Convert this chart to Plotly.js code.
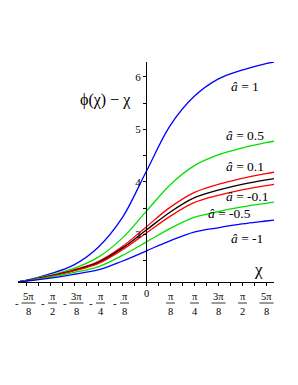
<!DOCTYPE html>
<html><head><meta charset="utf-8">
<script src="https://cdn.plot.ly/plotly-3.0.1.min.js"></script>
<style>html,body{margin:0;padding:0;background:#fff}</style>
</head><body><div id="chart" style="width:298px;height:385px"></div>
<script>
const PI = Math.PI;
// chi sample positions (multiples of pi/8, plus the ends ±2π/3)
const chi = [-2*PI/3, -5*PI/8, -PI/2, -3*PI/8, -PI/4, -PI/8, 0, PI/8, PI/4, 3*PI/8, PI/2, 5*PI/8, 2*PI/3];
// phi(chi) - chi
const yA1   = [2.094, 2.123, 2.249, 2.421, 2.752, 3.309, 4.189, 5.068, 5.625, 5.956, 6.128, 6.254, 6.283];
const yA05  = [2.094, 2.121, 2.223, 2.354, 2.563, 2.925, 3.434, 3.943, 4.305, 4.514, 4.645, 4.747, 4.774];
const yA01  = [2.094, 2.119, 2.209, 2.324, 2.481, 2.763, 3.139, 3.515, 3.797, 3.954, 4.069, 4.159, 4.184];
const yA0   = [2.094, 2.118, 2.204, 2.315, 2.462, 2.734, 3.079, 3.424, 3.696, 3.843, 3.954, 4.040, 4.064];
const yAm01 = [2.094, 2.118, 2.200, 2.306, 2.444, 2.704, 3.024, 3.344, 3.604, 3.742, 3.848, 3.930, 3.954];
const yAm05 = [2.094, 2.115, 2.185, 2.276, 2.383, 2.596, 2.854, 3.112, 3.325, 3.432, 3.523, 3.593, 3.614];
const yAm1  = [2.094, 2.112, 2.168, 2.242, 2.323, 2.489, 2.684, 2.879, 3.045, 3.127, 3.200, 3.256, 3.274];

const seriesNames = ["â = 1", "â = 0.5", "â = 0.1", "â = 0", "â = -0.1", "â = -0.5", "â = -1"];
const seriesY = [yA1, yA05, yA01, yA0, yAm01, yAm05, yAm1];

// x tick labels (fractions of π)
const xTickVals = [-5,-4,-3,-2,-1,1,2,3,4,5].map(k => k*PI/8);
const xTickNum  = ["5π","π","3π","π","π","π","π","3π","π","5π"];
const xTickDen  = ["8","2","8","4","8","8","4","8","2","8"];
// y ticks
const yTickVals = [2.5, 3, 3.5, 4, 4.5, 5, 5.5, 6];
const yTickText = ["", "3", "", "4", "", "5", "", "6"];

// styles
const colors = ["#0000ff", "#00e000", "#ff0000", "#000000", "#ff0000", "#00e000", "#0000ff"];
const labelPos = [[1.62, 5.82], [1.62, 4.88], [1.62, 4.29], null, [1.66, 3.72], [1.36, 3.40], [1.66, 2.92]];

const SERIF = "'Liberation Serif', 'Times New Roman', serif";

const traces = seriesY.map((ys, i) => ({
  x: chi, y: ys, type: "scatter", mode: "lines",
  line: {color: colors[i], width: 1.3, shape: "spline", smoothing: 1},
  name: seriesNames[i], hoverinfo: "skip"
}));

const annotations = [];
const shapes = [];
function ann(o) {
  annotations.push(Object.assign({showarrow: false, xanchor: "center", yanchor: "middle"}, o));
}
seriesNames.forEach((n, i) => {
  if (!labelPos[i]) return;
  ann({x: labelPos[i][0], y: labelPos[i][1], xref: "x", yref: "y",
    text: "<i>â</i> = " + n.split("= ")[1],
    font: {family: SERIF, size: 13.5, color: "#000"}});
});
xTickVals.forEach((v, i) => {
  const neg = v < 0;
  const w = xTickNum[i].length > 1 ? 14 : 9;
  const off = neg ? 2.5 : 0.5;
  ann({x: v, y: 0, xref: "x", yref: "paper", xshift: off, yshift: -14,
    text: xTickNum[i], font: {family: SERIF, size: 10.5, color: "#000"}});
  ann({x: v, y: 0, xref: "x", yref: "paper", xshift: off, yshift: -29,
    text: xTickDen[i], font: {family: SERIF, size: 10.5, color: "#000"}});
  shapes.push({type: "line", xref: "x", yref: "paper", xsizemode: "pixel", ysizemode: "pixel",
    xanchor: v, yanchor: 0, x0: off - w/2, x1: off + w/2, y0: -21, y1: -21,
    line: {color: "#000", width: 0.8}});
  if (neg) {
    ann({x: v, y: 0, xref: "x", yref: "paper", xshift: off - w/2 - 5, yshift: -21,
      text: "-", font: {family: SERIF, size: 11, color: "#000"}});
  }
});
ann({x: 0, y: 0, xref: "x", yref: "paper", xshift: 0, yshift: -11,
  text: "0", font: {family: SERIF, size: 10.5, color: "#000"}});
ann({x: 0.9375, y: 0.055, xref: "paper", yref: "paper",
  text: "χ", font: {family: SERIF, size: 17, color: "#000"}});
ann({x: 0.34, y: 0.827, xref: "paper", yref: "paper",
  text: "ϕ(χ) − χ", font: {family: SERIF, size: 16, color: "#000"}});

const layout = {
  width: 298, height: 385,
  margin: {l: 18, r: 24, t: 62, b: 103, pad: 0},
  paper_bgcolor: "#fff", plot_bgcolor: "#fff",
  showlegend: false,
  font: {family: SERIF},
  xaxis: {range: [-2*PI/3, 2*PI/3], domain: [0, 1], anchor: "y",
    showline: true, linecolor: "#000", linewidth: 1,
    ticks: "outside", tickmode: "linear", tick0: 0, dtick: PI/16, ticklen: 3, tickcolor: "#000", tickwidth: 1,
    showticklabels: false, showgrid: false, zeroline: false, fixedrange: true},
  yaxis: {range: [2*PI/3, 2*PI], anchor: "free", position: 0.5,
    showline: true, linecolor: "#000", linewidth: 1,
    ticks: "outside", tickmode: "array", tickvals: yTickVals, ticktext: yTickText,
    ticklen: 3, tickcolor: "#000", tickwidth: 1,
    tickfont: {family: SERIF, size: 11, color: "#000"},
    showgrid: false, zeroline: false, fixedrange: true},
  annotations: annotations,
  shapes: shapes
};

Plotly.newPlot("chart", traces, layout, {displayModeBar: false, staticPlot: true});
</script>
</body></html>
